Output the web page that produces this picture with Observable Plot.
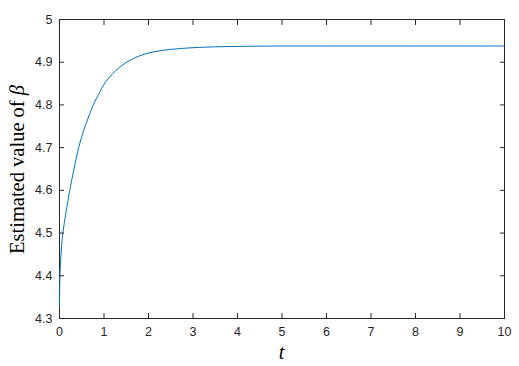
<!DOCTYPE html>
<html>
<head>
<meta charset="utf-8">
<script src="https://cdn.jsdelivr.net/npm/d3@7"></script>
<script src="https://cdn.jsdelivr.net/npm/@observablehq/plot@0.6"></script>
<style>
  html, body { margin: 0; padding: 0; background: #fff; }
  #chart svg { display: block; }
</style>
</head>
<body>
<div id="chart"></div>
<script>
const tValues = [0, 0.01, 0.04, 0.075, 0.15, 0.23, 0.32, 0.43, 0.55, 0.76, 0.9, 1.0, 1.2, 1.48, 1.8, 2.1, 2.5, 3, 3.5, 4, 5, 6, 7, 8, 9, 10];
const betaValues = [4.33, 4.40, 4.46, 4.50, 4.551, 4.60, 4.647, 4.70, 4.742, 4.80, 4.829, 4.848, 4.874, 4.898, 4.915, 4.924, 4.930, 4.934, 4.936, 4.937, 4.938, 4.938, 4.938, 4.938, 4.938, 4.938];
const xTicks = [0, 1, 2, 3, 4, 5, 6, 7, 8, 9, 10];
const yTicks = [4.3, 4.4, 4.5, 4.6, 4.7, 4.8, 4.9, 5];
const yTickLabels = ["4.3", "4.4", "4.5", "4.6", "4.7", "4.8", "4.9", "5"];

const data = tValues.map((t, i) => ({t, v: betaValues[i]}));
const axisColor = "#262626";
const empty = () => "";

const chart = Plot.plot({
  width: 519,
  height: 366,
  marginLeft: 59,
  marginRight: 15,
  marginTop: 19,
  marginBottom: 48,
  style: {fontFamily: "'Liberation Sans', Arial, sans-serif", fontSize: "12.5px", color: axisColor, background: "#fff"},
  x: {domain: [0, 10]},
  y: {domain: [4.3, 5]},
  marks: [
    Plot.frame({stroke: axisColor, strokeWidth: 1}),
    Plot.line(data, {x: "t", y: "v", stroke: "#0072BD", strokeWidth: 1, curve: "catmull-rom"}),
    Plot.axisX({ticks: xTicks, tickSize: 0, tickPadding: 9, label: null, tickFormat: d => String(d)}),
    Plot.axisX({ticks: xTicks, anchor: "bottom", tickSize: -5, tickFormat: empty, label: null, stroke: axisColor}),
    Plot.axisX({ticks: xTicks, anchor: "top", tickSize: -5, tickFormat: empty, label: null, stroke: axisColor}),
    Plot.axisY({ticks: yTicks, tickSize: 0, tickPadding: 7, label: null, tickFormat: d => yTickLabels[yTicks.indexOf(d)] ?? ""}),
    Plot.axisY({ticks: yTicks, anchor: "left", tickSize: -5, tickFormat: empty, label: null, stroke: axisColor}),
    Plot.axisY({ticks: yTicks, anchor: "right", tickSize: -5, tickFormat: empty, label: null, stroke: axisColor})
  ]
});

document.getElementById("chart").appendChild(chart);

// Axis titles with italic math symbols
const svg = d3.select(chart);
const xs = chart.scale("x"), ys = chart.scale("y");
const xMid = (xs.range[0] + xs.range[1]) / 2;
const yMid = (ys.range[0] + ys.range[1]) / 2;

svg.append("text")
  .attr("x", xMid).attr("y", 359)
  .attr("text-anchor", "middle")
  .attr("font-family", "'Liberation Serif', 'Times New Roman', serif")
  .attr("font-size", 20).attr("font-style", "italic").attr("fill", "#000")
  .text("t");

const yl = svg.append("text")
  .attr("transform", `translate(24,${yMid + 1}) rotate(-90)`)
  .attr("text-anchor", "middle")
  .attr("font-family", "'Liberation Serif', 'Times New Roman', serif")
  .attr("font-size", 20.5).attr("fill", "#000");
yl.append("tspan").text("Estimated value of ");
yl.append("tspan").attr("font-style", "italic").text("β");
</script>
</body>
</html>
